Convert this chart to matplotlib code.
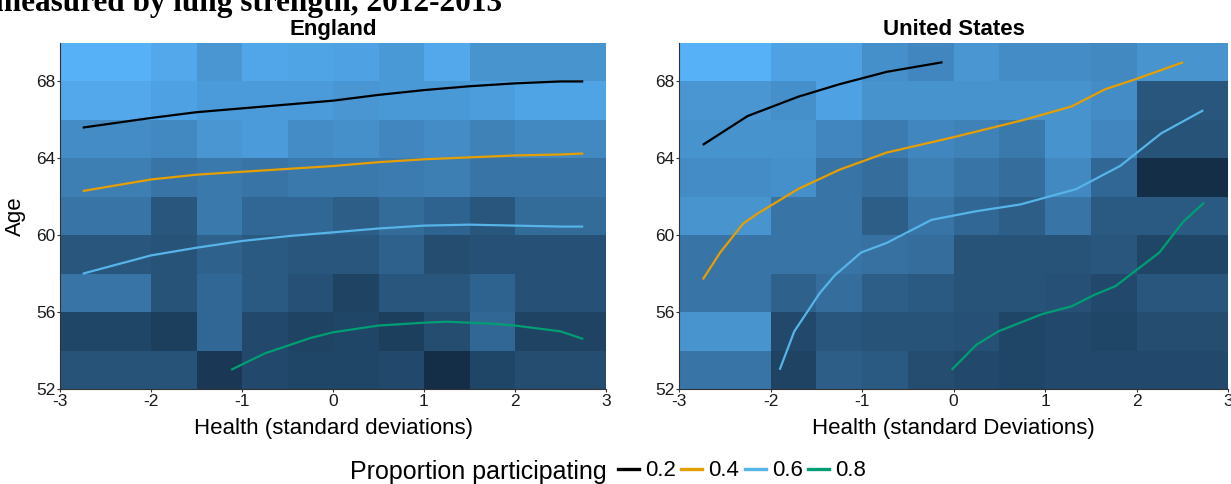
import numpy as np
import matplotlib
matplotlib.use("Agg")
import matplotlib.pyplot as plt
from matplotlib.colors import LinearSegmentedColormap
from matplotlib.lines import Line2D

plt.rcParams['font.family'] = ['Liberation Sans', 'DejaVu Sans']

# ---------------- data ----------------
x_edges = [-3, -2, -1.5, -1, -0.5, 0, 0.5, 1, 1.5, 2, 3]
age_edges = [52, 54, 56, 58, 60, 62, 64, 66, 68, 70]

# tile shade (0 = dark, 1 = light), rows from age 52-54 (bottom) to 68-70 (top)
england_tiles = [
    [0.30, 0.30, 0.10, 0.22, 0.20, 0.20, 0.22, 0.02, 0.20, 0.25],
    [0.20, 0.15, 0.45, 0.22, 0.18, 0.20, 0.15, 0.25, 0.45, 0.18],
    [0.55, 0.30, 0.45, 0.35, 0.28, 0.18, 0.32, 0.32, 0.42, 0.28],
    [0.32, 0.30, 0.40, 0.35, 0.32, 0.32, 0.40, 0.25, 0.28, 0.28],
    [0.55, 0.32, 0.58, 0.45, 0.45, 0.38, 0.48, 0.42, 0.32, 0.48],
    [0.62, 0.55, 0.58, 0.55, 0.58, 0.58, 0.60, 0.62, 0.55, 0.55],
    [0.72, 0.70, 0.80, 0.83, 0.72, 0.75, 0.68, 0.72, 0.65, 0.70],
    [0.93, 0.88, 0.83, 0.83, 0.83, 0.80, 0.82, 0.82, 0.85, 0.90],
    [1.00, 0.93, 0.80, 0.92, 0.90, 0.88, 0.82, 0.93, 0.78, 0.78],
]
us_tiles = [
    [0.55, 0.18, 0.38, 0.35, 0.25, 0.22, 0.20, 0.22, 0.22, 0.22],
    [0.78, 0.22, 0.32, 0.30, 0.30, 0.28, 0.20, 0.22, 0.20, 0.25],
    [0.55, 0.40, 0.50, 0.38, 0.35, 0.30, 0.30, 0.28, 0.22, 0.32],
    [0.55, 0.55, 0.55, 0.52, 0.50, 0.30, 0.30, 0.30, 0.32, 0.20],
    [0.78, 0.55, 0.55, 0.38, 0.55, 0.45, 0.38, 0.55, 0.35, 0.35],
    [0.72, 0.75, 0.55, 0.50, 0.62, 0.55, 0.50, 0.70, 0.45, 0.02],
    [0.77, 0.77, 0.68, 0.60, 0.68, 0.65, 0.58, 0.77, 0.68, 0.30],
    [0.80, 0.75, 0.88, 0.77, 0.77, 0.77, 0.77, 0.77, 0.72, 0.32],
    [1.00, 0.88, 0.88, 0.75, 0.68, 0.80, 0.72, 0.72, 0.70, 0.78],
]

levels = ["0.2", "0.4", "0.6", "0.8"]

# England contour lines (health, age)
eng_02_x = [-2.75, -2.0, -1.5, -1.0, -0.5, 0.0, 0.5, 1.0, 1.5, 2.0, 2.5, 2.75]
eng_02_y = [65.6, 66.1, 66.4, 66.6, 66.8, 67.0, 67.3, 67.55, 67.75, 67.9, 68.0, 68.0]
eng_04_x = [-2.75, -2.0, -1.5, -1.0, -0.5, 0.0, 0.5, 1.0, 1.5, 2.0, 2.5, 2.75]
eng_04_y = [62.3, 62.9, 63.15, 63.3, 63.45, 63.6, 63.8, 63.95, 64.05, 64.15, 64.2, 64.25]
eng_06_x = [-2.75, -2.0, -1.5, -1.0, -0.5, 0.0, 0.5, 1.0, 1.5, 2.0, 2.5, 2.75]
eng_06_y = [58.0, 58.95, 59.35, 59.7, 59.95, 60.15, 60.35, 60.5, 60.55, 60.5, 60.45, 60.45]
eng_08_x = [-1.12, -0.75, -0.25, 0.0, 0.5, 1.0, 1.25, 1.75, 2.0, 2.5, 2.75]
eng_08_y = [53.0, 53.85, 54.65, 54.95, 55.3, 55.45, 55.5, 55.4, 55.3, 55.0, 54.6]

# United States contour lines
us_02_x = [-2.74, -2.25, -1.7, -1.25, -0.73, -0.12]
us_02_y = [64.7, 66.2, 67.2, 67.85, 68.5, 69.0]
us_04_x = [-2.74, -2.55, -2.3, -2.15, -1.7, -1.25, -0.73, 0.0, 0.77, 1.29, 1.66, 1.98, 2.51]
us_04_y = [57.7, 59.1, 60.6, 61.1, 62.4, 63.4, 64.3, 65.1, 66.0, 66.7, 67.6, 68.1, 69.0]
us_06_x = [-1.9, -1.74, -1.46, -1.3, -1.01, -0.73, -0.24, 0.25, 0.73, 1.34, 1.82, 2.27, 2.73]
us_06_y = [53.0, 55.0, 57.0, 57.9, 59.1, 59.6, 60.8, 61.25, 61.6, 62.4, 63.6, 65.3, 66.5]
us_08_x = [-0.02, 0.25, 0.49, 0.97, 1.29, 1.54, 1.77, 2.25, 2.51, 2.74]
us_08_y = [53.0, 54.3, 55.0, 55.9, 56.3, 56.9, 57.35, 59.1, 60.7, 61.7]

x_ticks = [-3, -2, -1, 0, 1, 2, 3]
y_ticks = [52, 56, 60, 64, 68]

# ---------------- style ----------------
line_colors = ["#000000", "#E69F00", "#56B4E9", "#009E73"]
cmap = LinearSegmentedColormap.from_list("gg", ["#132B43", "#56B1F7"])

fig = plt.figure(figsize=(12.31, 4.84), dpi=100)
W, H = 1231, 484

def px_axes(l, r, t, b):
    return fig.add_axes([l / W, 1 - b / H, (r - l) / W, (b - t) / H])

ax1 = px_axes(60, 606, 43, 389)
ax2 = px_axes(679, 1228, 43, 389)

panels = [
    (ax1, england_tiles, "England", "Health (standard deviations)",
     [(eng_02_x, eng_02_y), (eng_04_x, eng_04_y), (eng_06_x, eng_06_y), (eng_08_x, eng_08_y)]),
    (ax2, us_tiles, "United States", "Health (standard Deviations)",
     [(us_02_x, us_02_y), (us_04_x, us_04_y), (us_06_x, us_06_y), (us_08_x, us_08_y)]),
]

for ax, tiles, title, xlabel, curves in panels:
    ax.pcolormesh(x_edges, age_edges, np.array(tiles), cmap=cmap, vmin=0, vmax=1,
                  shading='flat', edgecolor='none')
    for (xs, ys), c in zip(curves, line_colors):
        ax.plot(xs, ys, color=c, lw=1.6, solid_capstyle='butt')
    ax.set_xlim(-3, 3)
    ax.set_ylim(52, 70)
    ax.set_xticks(x_ticks)
    ax.set_xticklabels([str(v) for v in x_ticks])
    ax.set_yticks(y_ticks)
    ax.set_title(title, fontsize=16, fontweight='bold', pad=6)
    ax.set_xlabel(xlabel, fontsize=16, labelpad=7)
    for s in ['top', 'right']:
        ax.spines[s].set_visible(False)
    for s in ['left', 'bottom']:
        ax.spines[s].set_color('#333333')
        ax.spines[s].set_linewidth(0.8)
    ax.tick_params(axis='both', length=2.5, width=0.8, color='#333333',
                   labelsize=12.5, labelcolor='#1a1a1a', pad=0.8)

ax1.set_ylabel("Age", fontsize=16, labelpad=7)

# cut-off heading at the top
fig.text(-5 / W, 1 - 11 / H, "measured by lung strength, 2012-2013",
         fontsize=22.5, fontweight='bold', family=['Liberation Serif', 'DejaVu Serif'],
         ha='left', va='baseline')

# legend
fig.text(607 / W, 1 - 472 / H, "Proportion participating", fontsize=18,
         ha='right', va='center')
handles = [Line2D([0], [0], color=c, lw=2.4) for c in line_colors]
fig.legend(handles, levels, loc='center left', bbox_to_anchor=(618 / W, 1 - 471 / H),
           ncol=4, frameon=False, fontsize=16, handlelength=0.95, handletextpad=0.27,
           columnspacing=0.24, borderpad=0, borderaxespad=0)

fig.savefig("out.png", dpi=100)
